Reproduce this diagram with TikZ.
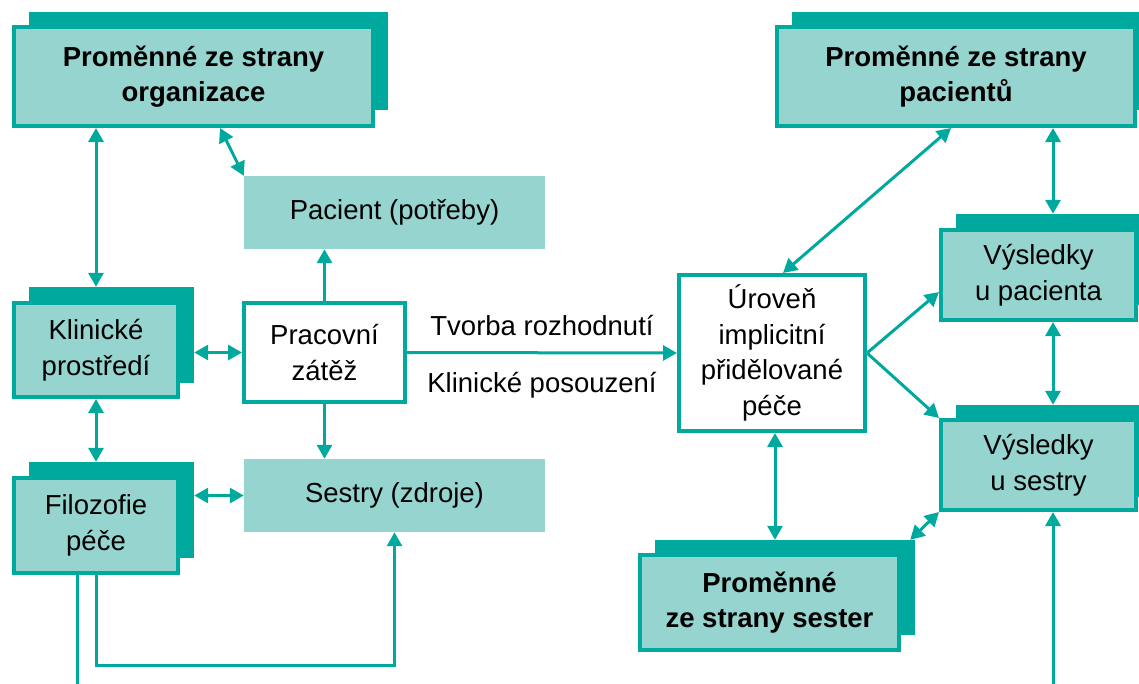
\documentclass[tikz,border=0pt]{standalone}
\usepackage{fontspec}
\setmainfont{Liberation Sans}
\usetikzlibrary{arrows.meta,calc}
\definecolor{tealdark}{HTML}{00A99D}
\definecolor{teallight}{HTML}{96D4CF}
\begin{document}
\begin{tikzpicture}[x=1pt,y=-1pt,
  txt/.style={font=\fontsize{27.5}{35.5}\selectfont, align=center, inner sep=0pt},
  front/.style={txt, draw=tealdark, line width=4pt, fill=teallight},
  headbox/.style={front, font=\fontsize{27.5}{35.5}\selectfont\bfseries},
  back/.style={fill=tealdark, inner sep=0pt},
  plainbox/.style={txt, fill=teallight},
  whitebox/.style={txt, draw=tealdark, line width=4pt, fill=white},
  conn/.style={draw=tealdark, line width=3pt},
  arr/.style={conn, -{Triangle[length=14pt,width=15pt]}},
  darr/.style={conn, {Triangle[length=14pt,width=15pt]}-{Triangle[length=14pt,width=15pt]}}
]
\path[use as bounding box] (0,0) rectangle (1139,683);
\clip (0,0) rectangle (1139,683);

% shadow plates behind the stacked boxes
\node[back, minimum width=359pt, minimum height=98pt] (orgB) at (208.5,61) {};
\node[back, minimum width=165pt, minimum height=96pt] (kliB) at (111.5,335) {};
\node[back, minimum width=165pt, minimum height=96pt] (filoB) at (111.5,510) {};
\node[back, minimum width=368pt, minimum height=98pt] (ptsB) at (976,61) {};
\node[back, minimum width=204pt, minimum height=91pt] (vpacB) at (1058,259.5) {};
\node[back, minimum width=204pt, minimum height=92pt] (vsesB) at (1058,451) {};
\node[back, minimum width=260pt, minimum height=95pt] (sstB) at (785,587.5) {};

% front boxes
\node[headbox, minimum width=359pt, minimum height=99pt] (org) at (193.5,76.5) {Proměnné ze strany\\organizace};
\node[front, minimum width=164pt, minimum height=94pt] (kli) at (96,350) {Klinické\\prostředí};
\node[front, minimum width=164pt, minimum height=95pt] (filo) at (96,525.5) {Filozofie\\péče};
\node[whitebox, minimum width=161pt, minimum height=99pt] (prac) at (324.5,352.5) {Pracovní\\zátěž};
\node[plainbox, minimum width=301pt, minimum height=73pt] (pac) at (394.5,212.5) {Pacient (potřeby)};
\node[plainbox, minimum width=301pt, minimum height=73pt] (ses) at (394.5,495.5) {Sestry (zdroje)};
\node[whitebox, minimum width=186pt, minimum height=156pt] (urov) at (772,353) {Úroveň\\implicitní\\přidělované\\péče};
\node[headbox, minimum width=358pt, minimum height=99pt] (pts) at (956,76.5) {Proměnné ze strany\\pacientů};
\node[front, minimum width=195pt, minimum height=90pt] (vpac) at (1038.5,275) {Výsledky\\u pacienta};
\node[front, minimum width=195pt, minimum height=90pt] (vses) at (1038.5,465) {Výsledky\\u sestry};
\node[headbox, minimum width=259pt, minimum height=95pt] (sst) at (769.5,602.5) {Proměnné\\ze strany sester};

% labels on the main arrow
\node[txt, anchor=base] (lblA) at (542,335.5) {Tvorba rozhodnutí};
\node[txt, anchor=base] (lblB) at (542,392.5) {Klinické posouzení};

% helper coordinates
\coordinate (colL) at (96,0);
\coordinate (colR) at (1053,0);
\coordinate (colM) at (775,0);
\coordinate (loopy) at (0,665);
\coordinate (botL) at (77,690);
\coordinate (botR) at (1053,690);

% left part
\draw[darr] (org.south -| colL) -- (kliB.north -| colL);
\draw[darr] ($(org.south west)+(208,0)$) -- (pac.north west);
\draw[darr] (prac.west -| kliB.east) -- (prac.west);
\draw[darr] (kli.south) -- (filoB.north -| kli.south);
\draw[darr] (ses.west -| filoB.east) -- (ses.west);
\draw[arr] (prac.north) -- (prac.north |- pac.south);
\draw[arr] (prac.south) -- (prac.south |- ses.north);
\draw[arr] (prac.east) -- (urov.west);
\draw[conn] ($(filo.south)+(-19,0)$) -- (botL);
\draw[arr] (filo.south) -- (filo.south |- loopy) -| (ses.south);

% right part
\draw[darr] ($(pts.south)+(-5,0)$) -- ($(urov.north)+(11,0)$);
\draw[darr] (pts.south -| colR) -- (vpacB.north -| colR);
\draw[arr] (urov.east) -- ($(vpac.west)+(0,17)$);
\draw[arr] (urov.east) -- (vses.north west);
\draw[darr] (vpac.south -| colR) -- (vsesB.north -| colR);
\draw[darr] (urov.south -| colM) -- (sstB.north -| colM);
\draw[darr] ($(sstB.north east)+(-5,0)$) -- (vses.south west);
\draw[arr] (botR) -- (vses.south -| colR);
\end{tikzpicture}
\end{document}
